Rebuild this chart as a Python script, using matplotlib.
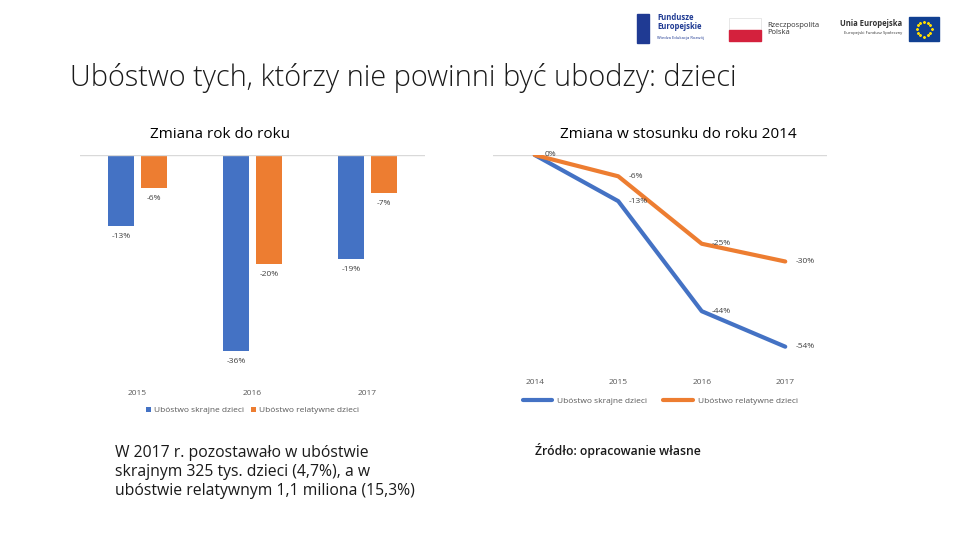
import matplotlib.pyplot as plt
import numpy as np
from matplotlib.patches import Rectangle

years_bar = ['2015', '2016', '2017']
skrajne_rr = [-13, -36, -19]
relatywne_rr = [-6, -20, -7]

years_line = ['2014', '2015', '2016', '2017']
skrajne_2014 = [0, -13, -44, -54]
relatywne_2014 = [0, -6, -25, -30]

series_names = ['Ubóstwo skrajne dzieci', 'Ubóstwo relatywne dzieci']
blue = '#4472C4'
orange = '#ED7D31'
label_col = '#404040'
tick_col = '#595959'

plt.rcParams['font.family'] = ['Open Sans', 'DejaVu Sans']

fig = plt.figure(figsize=(9.6, 5.4), dpi=100)

# title
fig.text(70 / 960, 1 - 78 / 540, 'Ubóstwo tych, którzy nie powinni być ubodzy: dzieci',
         fontsize=20.8, fontweight='light', color='#1A1A1A', va='center', ha='left')

# bar chart: year-on-year change
ax1 = fig.add_axes([80 / 960, 1 - 373 / 540, 345 / 960, 218 / 540])
ind = np.arange(len(years_bar))
w = 0.22
b1 = ax1.bar(ind - 0.143, skrajne_rr, w, color=blue)
b2 = ax1.bar(ind + 0.143, relatywne_rr, w, color=orange)
for bars, vals in ((b1, skrajne_rr), (b2, relatywne_rr)):
    for b, v in zip(bars, vals):
        ax1.text(b.get_x() + b.get_width() / 2, v - 1.3, f'{v}%', ha='center', va='top',
                 fontsize=6, color=label_col)
ax1.set_xlim(-0.5, 2.5)
ax1.set_ylim(-40, 0)
ax1.axhline(0, color='#D9D9D9', lw=1)
for s in ax1.spines.values():
    s.set_visible(False)
ax1.set_yticks([])
ax1.set_xticks(ind)
ax1.set_xticklabels(years_bar, fontsize=6, color=tick_col)
ax1.tick_params(axis='x', length=0, pad=12)
fig.text(220 / 960, 1 - 135 / 540, 'Zmiana rok do roku', fontsize=11, ha='center', va='center')
ax1.legend([b1, b2], series_names, loc='upper center', bbox_to_anchor=(0.5, -0.12), ncol=2,
           frameon=False, fontsize=6, handlelength=0.6, handleheight=0.6, columnspacing=0.8,
           handletextpad=0.4, labelcolor=tick_col)

# line chart: change vs 2014
ax2 = fig.add_axes([493 / 960, 1 - 368 / 540, 334 / 960, 213 / 540])
xl = np.arange(len(years_line))
l1, = ax2.plot(xl, skrajne_2014, color=blue, lw=3, solid_capstyle='round')
l2, = ax2.plot(xl, relatywne_2014, color=orange, lw=3, solid_capstyle='round')
for vals in (skrajne_2014, relatywne_2014):
    for x, v in zip(xl, vals):
        if x == 0 and vals is skrajne_2014:
            continue
        ax2.text(x + 0.12, v, f'{v}%', ha='left', va='center', fontsize=6, color=label_col)
ax2.set_xlim(-0.5, 3.5)
ax2.set_ylim(-60, 0)
ax2.axhline(0, color='#D9D9D9', lw=1, zorder=0)
for s in ax2.spines.values():
    s.set_visible(False)
ax2.set_yticks([])
ax2.set_xticks(xl)
ax2.set_xticklabels(years_line, fontsize=6, color=tick_col)
ax2.tick_params(axis='x', length=0, pad=8)
fig.text(678 / 960, 1 - 135 / 540, 'Zmiana w stosunku do roku 2014', fontsize=11, ha='center', va='center')
ax2.legend([l1, l2], series_names, loc='upper center', bbox_to_anchor=(0.5, -0.1), ncol=2,
           frameon=False, fontsize=6, handlelength=3.5, columnspacing=2,
           handletextpad=0.6, labelcolor=tick_col)

# bottom texts
fig.text(115 / 960, 1 - 472 / 540,
         'W 2017 r. pozostawało w ubóstwie\nskrajnym 325 tys. dzieci (4,7%), a w\nubóstwie relatywnym 1,1 miliona (15,3%)',
         fontsize=11.3, ha='left', va='center', linespacing=1.25, color='#1A1A1A')
fig.text(535 / 960, 1 - 450 / 540, 'Źródło: opracowanie własne', fontsize=8.8,
         fontweight='semibold', ha='left', va='center', color='#1A1A1A')

# logos strip
lg = fig.add_axes([0, 1 - 50 / 540, 1, 50 / 540])
lg.set_xlim(0, 960)
lg.set_ylim(50, 0)
lg.axis('off')
lg.add_patch(Rectangle((637, 14), 12, 29, color='#1F3A93'))
lg.text(657, 22, 'Fundusze\nEuropejskie', fontsize=5.5, fontweight='bold', color='#1F3A93',
        va='center', linespacing=0.9)
lg.text(657, 38, 'Wiedza Edukacja Rozwój', fontsize=3, color='#1F3A93', va='center')
lg.add_patch(Rectangle((729, 18), 32, 12, facecolor='white', edgecolor='#DDDDDD', lw=0.5))
lg.add_patch(Rectangle((729, 30), 32, 11, color='#D4213D'))
lg.text(767, 29, 'Rzeczpospolita\nPolska', fontsize=5.5, color='#333333', va='center',
        linespacing=0.9)
lg.text(902, 24, 'Unia Europejska', fontsize=5.5, fontweight='bold', color='#333333',
        va='center', ha='right')
lg.text(902, 33, 'Europejski Fundusz Społeczny', fontsize=3, color='#333333', va='center', ha='right')
lg.add_patch(Rectangle((909, 17), 30, 24, color='#103F91'))
ang = np.linspace(0, 2 * np.pi, 13)[:-1]
lg.scatter(924 + 7.5 * np.cos(ang), 29 + 7.5 * np.sin(ang), s=1.5, color='#FFDD00', marker='*')

fig.savefig('out.png', dpi=100)
